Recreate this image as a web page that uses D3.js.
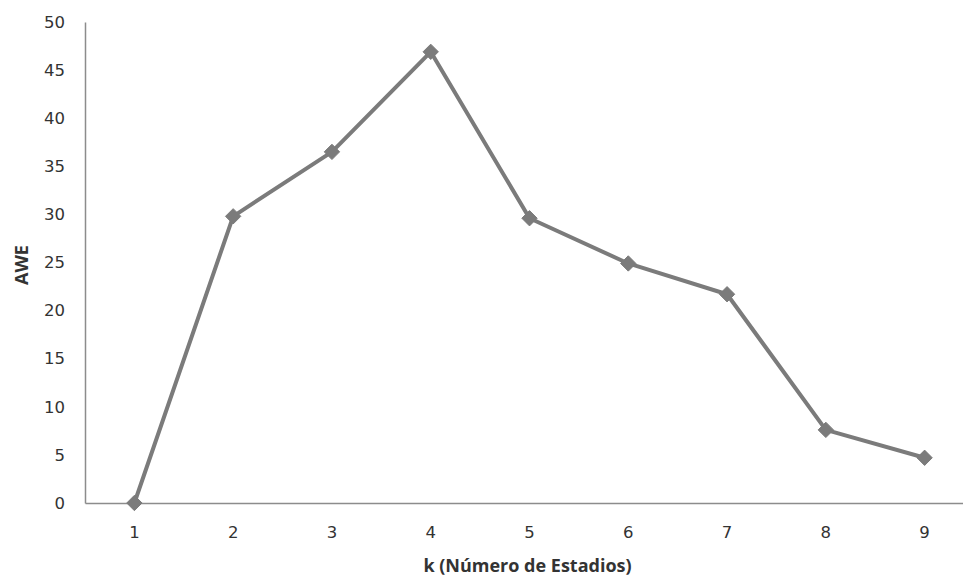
<!DOCTYPE html>
<html>
<head>
<meta charset="utf-8">
<script src="https://cdn.jsdelivr.net/npm/d3@7"></script>
<style>
  body { margin: 0; background: #fff; }
</style>
</head>
<body>
<div id="canvas"></div>
<script>
"use strict"

/* Data */
let kValues = ["1", "2", "3", "4", "5", "6", "7", "8", "9"];
let aweValues = [0, 29.8, 36.5, 46.9, 29.6, 24.9, 21.7, 7.6, 4.7];
let yTicks = [0, 5, 10, 15, 20, 25, 30, 35, 40, 45, 50];

/* Drawing config */
let svgWidth = 963;
let svgHeight = 579;
let plotLeft = 85;
let plotRight = 974;   // plot area runs past the window edge
let plotTop = 22;
let plotBottom = 503;
let grey = "#7b7b7b";

let svg = d3.select("#canvas")
    .append("svg")
    .attr("width", svgWidth)
    .attr("height", svgHeight);

let xScale = d3.scaleBand()
    .domain(kValues)
    .range([plotLeft, plotRight]);

let yScale = d3.scaleLinear()
    .domain([0, 50])
    .range([plotBottom, plotTop]);

/* y axis */
let yAxis = svg.append("g")
    .attr("transform", "translate(" + plotLeft + ",0)")
    .call(d3.axisLeft(yScale).tickValues(yTicks).tickSize(0).tickPadding(20));
yAxis.select(".domain").attr("stroke", "#8c8c8c").attr("stroke-width", 1.5);
yAxis.selectAll("text")
    .attr("font-family", "DejaVu Sans")
    .attr("font-size", 16.5)
    .attr("fill", "#333");

/* x axis */
let xAxis = svg.append("g")
    .attr("transform", "translate(0," + plotBottom + ")")
    .call(d3.axisBottom(xScale).tickSize(0).tickPadding(23));
xAxis.select(".domain").attr("stroke", "#8c8c8c").attr("stroke-width", 1.5);
xAxis.selectAll("text")
    .attr("font-family", "DejaVu Sans")
    .attr("font-size", 16.5)
    .attr("fill", "#333");

/* series line */
let points = kValues.map((k, i) => ({ k: k, v: aweValues[i] }));
let line = d3.line()
    .x(d => xScale(d.k) + xScale.bandwidth() / 2)
    .y(d => yScale(d.v));

svg.append("path")
    .datum(points)
    .attr("fill", "none")
    .attr("stroke", grey)
    .attr("stroke-width", 4)
    .attr("stroke-linejoin", "round")
    .attr("d", line);

svg.selectAll("path.marker")
    .data(points)
    .join("path")
    .attr("class", "marker")
    .attr("transform", d => "translate(" + (xScale(d.k) + xScale.bandwidth() / 2) + "," + yScale(d.v) + ")")
    .attr("d", d3.symbol().type(d3.symbolDiamond2).size(150))
    .attr("fill", grey)
    .attr("stroke", grey)
    .attr("stroke-width", 1);

/* axis titles */
svg.append("text")
    .attr("x", (plotLeft + plotRight) / 2 - 2)
    .attr("y", 572)
    .attr("text-anchor", "middle")
    .attr("font-family", "Open Sans")
    .attr("font-weight", "bold")
    .attr("font-size", 18)
    .attr("fill", "#333")
    .text("k (Número de Estadios)");

svg.append("text")
    .attr("transform", "translate(28,265) rotate(-90)")
    .attr("text-anchor", "middle")
    .attr("font-family", "Open Sans")
    .attr("font-weight", "bold")
    .attr("font-size", 18)
    .attr("fill", "#333")
    .text("AWE");
</script>
</body>
</html>
